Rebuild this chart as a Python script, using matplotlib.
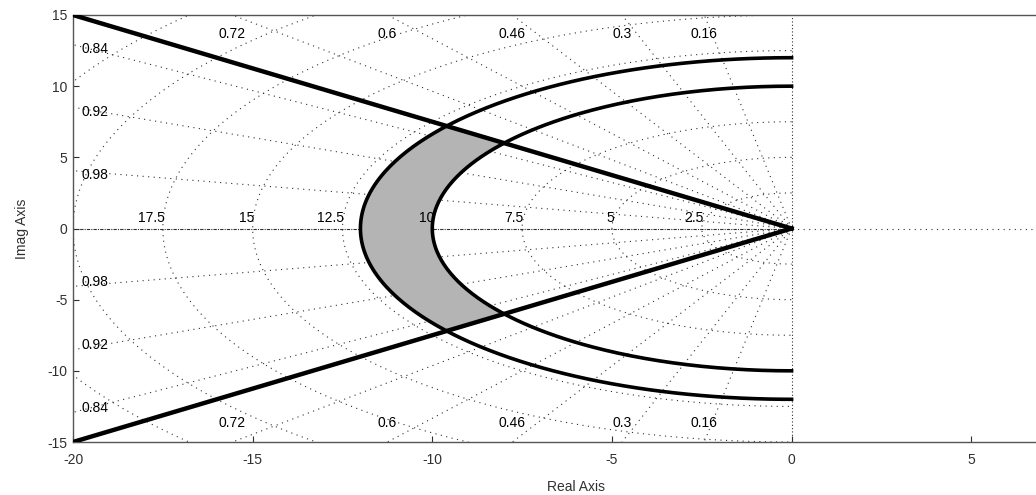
#!/usr/bin/env python3

import numpy as np
import matplotlib.pyplot as plt

plt.rcParams['font.family'] = ['Liberation Sans', 'DejaVu Sans']
plt.rcParams['axes.unicode_minus'] = False

# sgrid values
zeta_vals = [0.16, 0.3, 0.46, 0.6, 0.72, 0.84, 0.92, 0.98]
wn_vals = [2.5, 5, 7.5, 10, 12.5, 15, 17.5, 20, 22.5, 25]
wn_labels = ['2.5', '5', '7.5', '10', '12.5', '15', '17.5']

# design region: natural frequency bounds and damping boundary
wn_bounds = [10, 12]
zeta_min = 0.8
ray_x_end = -20

xticks = [-20, -15, -10, -5, 0, 5]
yticks = [-15, -10, -5, 0, 5, 10, 15]


def zeta_slope(z):
    return np.sqrt(1 - z ** 2) / z


def main():
    fig = plt.figure(figsize=(10.36, 4.95), dpi=100)
    ax = fig.add_axes([73 / 1036, 53 / 495, 1006 / 1036, 427 / 495])
    ax.set_xlim(-20, 8)
    ax.set_ylim(-15, 15)

    fs = 10
    grid_kw = dict(color='#303030', linestyle=(0, (1, 4)), linewidth=0.8, zorder=1)

    # damping ratio rays
    for z in zeta_vals:
        s = zeta_slope(z)
        xs = np.array([0, -40])
        ax.plot(xs, -s * xs, **grid_kw)
        ax.plot(xs, s * xs, **grid_kw)

    # natural frequency arcs
    t = np.linspace(np.pi / 2, 3 * np.pi / 2, 300)
    for wn in wn_vals:
        ax.plot(wn * np.cos(t), wn * np.sin(t), **grid_kw)

    # axes lines
    ax.plot([-20, 0], [0, 0], color='#303030', linestyle=(0, (3, 1, 1, 1)),
            linewidth=0.8, zorder=1)
    ax.plot([0, 8], [0, 0], **grid_kw)
    ax.plot([0, 0], [-15, 15], color='#303030', linestyle=(0, (1, 2)),
            linewidth=0.8, zorder=1)

    # labels for damping ratio
    for z in zeta_vals:
        s = zeta_slope(z)
        if s * 20 > 15:
            xl = -15 / s
            ax.text(xl, 13.7, str(z), ha='center', va='center', fontsize=fs)
            ax.text(xl, -13.7, str(z), ha='center', va='center', fontsize=fs)
        else:
            yl = 20 * s - 0.3
            ax.text(-19.75, yl, str(z), ha='left', va='center', fontsize=fs)
            ax.text(-19.75, -yl, str(z), ha='left', va='center', fontsize=fs)

    # labels for natural frequency
    for wn, lab in zip(wn_vals, wn_labels):
        ax.text(-wn + 0.05, 0.75, lab, ha='right', va='center', fontsize=fs)

    # shaded design region
    r_in, r_out = wn_bounds
    a0 = np.pi - np.arccos(zeta_min)
    ang = np.linspace(a0, 2 * np.pi - a0, 200)
    px = np.concatenate([r_out * np.cos(ang), r_in * np.cos(ang[::-1])])
    py = np.concatenate([r_out * np.sin(ang), r_in * np.sin(ang[::-1])])
    ax.fill(px, py, color='#b4b4b4', zorder=2)

    # frequency bound arcs
    for r in wn_bounds:
        ax.plot(r * np.cos(t), r * np.sin(t), color='black', linewidth=2.6,
                zorder=3)

    # damping boundary rays
    s = zeta_slope(zeta_min)
    xs = np.array([0, ray_x_end])
    ax.plot(xs, -s * xs, color='black', linewidth=3.2, zorder=3)
    ax.plot(xs, s * xs, color='black', linewidth=3.2, zorder=3)

    ax.set_xticks(xticks)
    ax.set_yticks(yticks)
    ax.tick_params(direction='in', length=4, width=0.8, labelsize=fs,
                   colors='#303030', pad=4)
    ax.tick_params(axis='x', pad=8)
    for sp in ax.spines.values():
        sp.set_color('#555555')
        sp.set_linewidth(1.0)
    ax.set_xlabel('Real Axis', fontsize=fs, color='#303030', labelpad=9)
    ax.set_ylabel('Imag Axis', fontsize=fs, color='#303030', labelpad=13)

    fig.savefig('out.png', dpi=100)


if __name__ == '__main__':
    main()
